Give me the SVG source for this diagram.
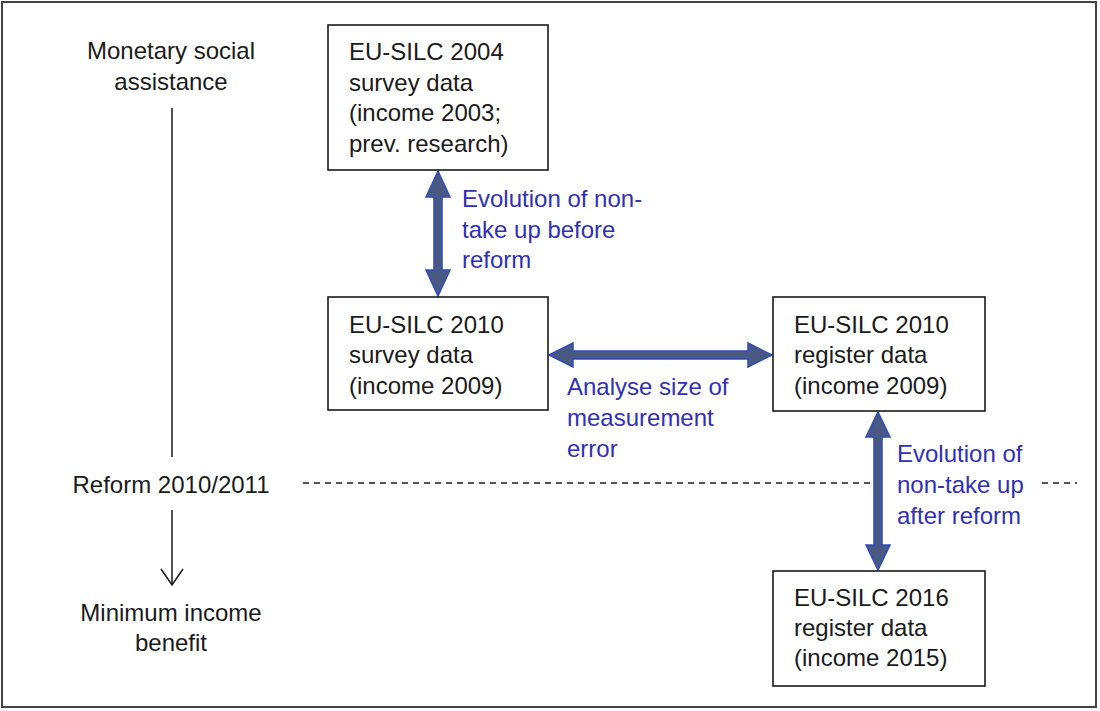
<svg xmlns="http://www.w3.org/2000/svg" width="1100" height="711" viewBox="0 0 1100 711">
<style>
.t{font-family:"Liberation Sans",Arial,sans-serif;font-size:24px;fill:#1a1a1a}
.b{font-family:"Liberation Sans",Arial,sans-serif;font-size:24px;fill:#3030b4}
.box{fill:#fff;stroke:#1a1a1a;stroke-width:1.6}
.da{fill:#4a5884;stroke:#2f4db8;stroke-width:1.5;stroke-linejoin:miter}
.c{text-anchor:middle}
</style>
<rect x="2" y="2" width="1094" height="705" fill="#fff" stroke="#444" stroke-width="2"/>
<g id="timeline">
<text class="t c" x="171" y="59">Monetary social</text>
<text class="t c" x="171" y="90">assistance</text>
<line x1="172" y1="108" x2="172" y2="457" stroke="#1a1a1a" stroke-width="1.5"/>
<text class="t c" x="171" y="493">Reform 2010/2011</text>
<line x1="172" y1="510" x2="172" y2="585" stroke="#1a1a1a" stroke-width="1.5"/>
<polyline points="161,569 172,585 183,569" fill="none" stroke="#1a1a1a" stroke-width="1.5"/>
<text class="t c" x="171" y="621">Minimum income</text>
<text class="t c" x="171" y="651">benefit</text>
</g>
<g id="connectors">
<line x1="303" y1="483" x2="878" y2="483" stroke="#1a1a1a" stroke-width="1.3" stroke-dasharray="6 5"/>
<line x1="1042" y1="483" x2="1077" y2="483" stroke="#1a1a1a" stroke-width="1.3" stroke-dasharray="6 5"/>
<path class="da" d="M438,171 L450,197 L442,197 L442,270 L450,270 L438,296 L426,270 L434,270 L434,197 L426,197 Z"/>
<path class="da" d="M549,355 L573,343 L573,351 L748,351 L748,343 L772,355 L748,367 L748,359 L573,359 L573,367 Z"/>
<path class="da" d="M878,412 L890,437 L882,437 L882,545 L890,545 L878,570 L866,545 L874,545 L874,437 L866,437 Z"/>
</g>
<g id="label-before">
<text class="b" x="462" y="207">Evolution of non-</text>
<text class="b" x="462" y="238">take up before</text>
<text class="b" x="462" y="268">reform</text>
</g>
<g id="label-error">
<text class="b" x="567" y="395">Analyse size of</text>
<text class="b" x="567" y="426">measurement</text>
<text class="b" x="567" y="457">error</text>
</g>
<g id="label-after">
<text class="b" x="897" y="462">Evolution of</text>
<text class="b" x="897" y="493">non-take up</text>
<text class="b" x="897" y="524">after reform</text>
</g>
<g id="node-2004">
<rect class="box" x="328" y="25" width="220" height="145"/>
<text class="t" x="349" y="60">EU-SILC 2004</text>
<text class="t" x="349" y="91">survey data</text>
<text class="t" x="349" y="121">(income 2003;</text>
<text class="t" x="349" y="152">prev. research)</text>
</g>
<g id="node-2010-survey">
<rect class="box" x="328" y="297" width="220" height="113"/>
<text class="t" x="349" y="333">EU-SILC 2010</text>
<text class="t" x="349" y="363">survey data</text>
<text class="t" x="349" y="394">(income 2009)</text>
</g>
<g id="node-2010-register">
<rect class="box" x="773" y="297" width="212" height="114"/>
<text class="t" x="794" y="333">EU-SILC 2010</text>
<text class="t" x="794" y="363">register data</text>
<text class="t" x="794" y="394">(income 2009)</text>
</g>
<g id="node-2016-register">
<rect class="box" x="773" y="571" width="212" height="115"/>
<text class="t" x="794" y="606">EU-SILC 2016</text>
<text class="t" x="794" y="636">register data</text>
<text class="t" x="794" y="666">(income 2015)</text>
</g>
</svg>
